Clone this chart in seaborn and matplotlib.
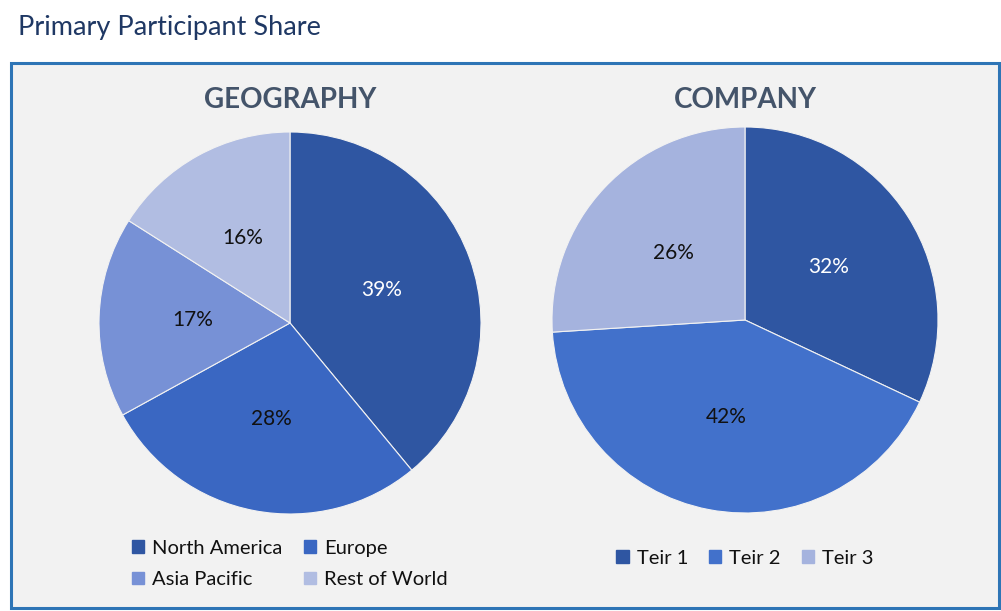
import matplotlib
matplotlib.use("Agg")
import matplotlib.pyplot as plt
import matplotlib.patches as mpatches
import seaborn as sns

# ---- data ----
geo_labels = ["North America", "Europe", "Asia Pacific", "Rest of World"]
geo_values = [39, 28, 17, 16]
comp_labels = ["Teir 1", "Teir 2", "Teir 3"]
comp_values = [32, 42, 26]

geo_colors = ["#2F56A2", "#3A67C2", "#7791D6", "#B1BDE2"]
comp_colors = ["#2F56A2", "#4271CB", "#A5B3DE"]
geo_text = ["white", "#111111", "#111111", "#111111"]
comp_text = ["white", "#111111", "#111111"]

sns.set_theme(style="white")
plt.rcParams["font.family"] = ["Lato", "DejaVu Sans"]

W, H = 1001, 611
fig = plt.figure(figsize=(W / 100, H / 100), dpi=100)
fig.patch.set_facecolor("white")

# outer box
fig.add_artist(mpatches.Rectangle((11 / W, 1 - 608 / H), (999 - 11) / W, (608 - 63) / H,
                                  transform=fig.transFigure, facecolor="#F2F2F2",
                                  edgecolor="#2E75B6", linewidth=2.2, zorder=0))
fig.text(18 / W, 1 - 28 / H, "Primary Participant Share", fontsize=19.5, color="#1F3864",
         va="center", ha="left")


def draw_pie(cx, cy, r, values, colors, textcolors, title, labels, legend_ncol, legend_y, order):
    ax = fig.add_axes([(cx - r) / W, 1 - (cy + r) / H, 2 * r / W, 2 * r / H])
    ax.set_facecolor("none")
    wedges, _, autotexts = ax.pie(values, colors=colors, startangle=90, counterclock=False,
                                  autopct="%1.0f%%", pctdistance=0.51,
                                  wedgeprops=dict(linewidth=0.8, edgecolor="#F2F2F2"),
                                  textprops=dict(fontsize=15))
    for t, c in zip(autotexts, textcolors):
        t.set_color(c)
    ax.set_xlim(-1, 1)
    ax.set_ylim(-1, 1)
    ax.set_aspect("equal")
    ax.axis("off")
    fig.text(cx / W, 1 - 100 / H, title, fontsize=20, fontweight="bold", color="#44546A",
             ha="center", va="center")
    handles = [mpatches.Patch(color=colors[i], label=labels[i]) for i in order]
    fig.legend(handles=handles, loc="center", bbox_to_anchor=(cx / W, 1 - legend_y / H),
               ncol=legend_ncol, frameon=False, fontsize=14.5, handlelength=0.6,
               handleheight=0.6, handletextpad=0.4, columnspacing=1.05, labelspacing=0.7,
               labelcolor="#111111")


draw_pie(290, 323, 191, geo_values, geo_colors, geo_text, "GEOGRAPHY", geo_labels, 2, 564, [0, 2, 1, 3])
draw_pie(745, 320, 193, comp_values, comp_colors, comp_text, "COMPANY", comp_labels, 3, 558, [0, 1, 2])

fig.savefig("out.png", dpi=100)
